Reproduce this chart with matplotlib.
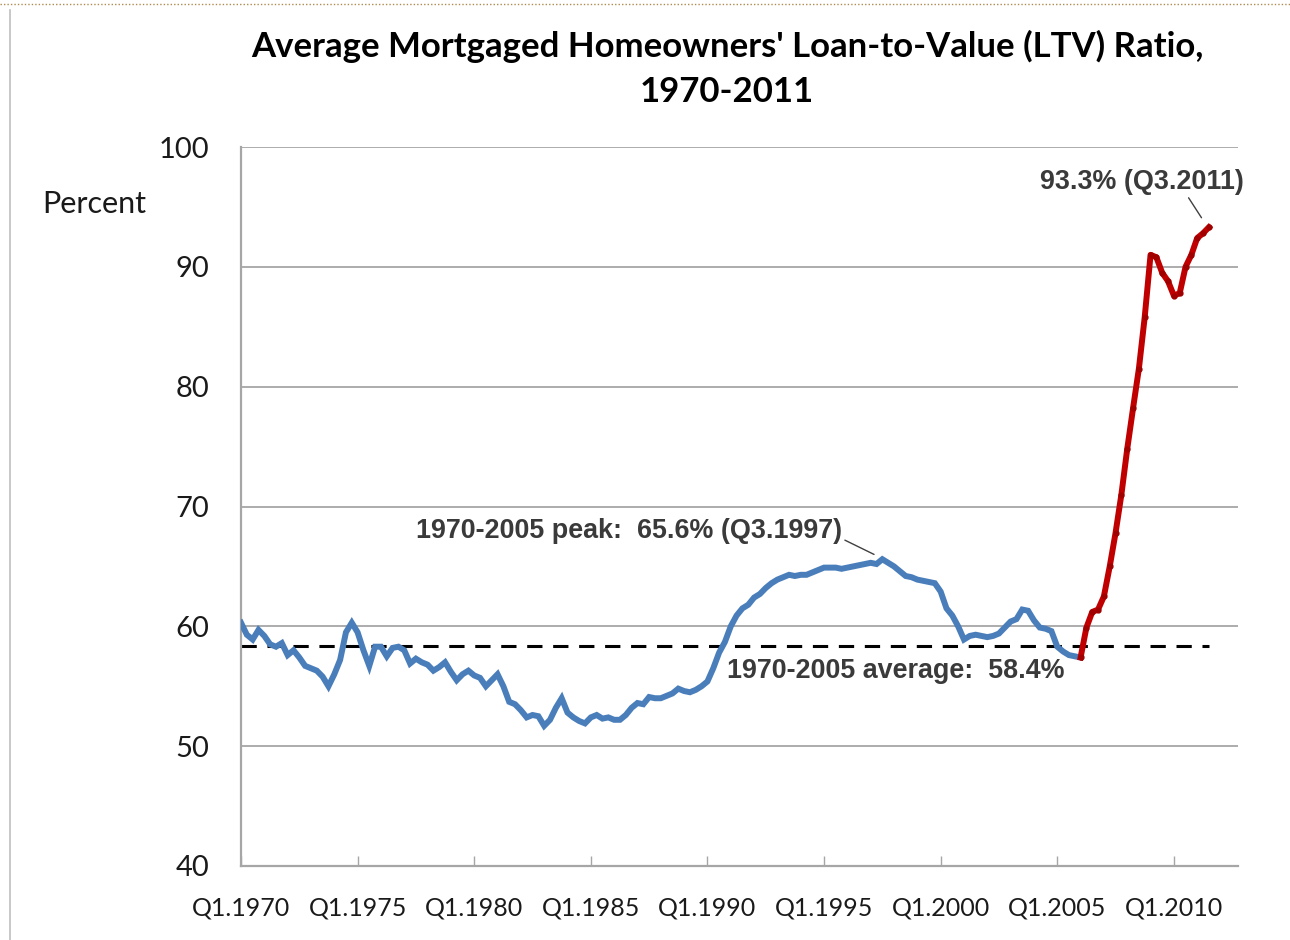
import numpy as np
import matplotlib
matplotlib.use("Agg")
import matplotlib.pyplot as plt
from matplotlib.lines import Line2D

# quarterly LTV ratio, Q1.1970 .. Q1.2006 (blue) and Q1.2006 .. Q3.2011 (red)
ltv_blue = [
    60.3, 59.3, 58.9, 59.7, 59.2, 58.5, 58.3, 58.6, 57.6, 58.0,
    57.4, 56.7, 56.5, 56.3, 55.8, 55.0, 56.0, 57.2, 59.5, 60.3,
    59.5, 58.0, 56.7, 58.3, 58.3, 57.5, 58.2, 58.3, 58.0, 56.9,
    57.3, 57.0, 56.8, 56.3, 56.6, 57.0, 56.2, 55.5, 56.0, 56.3,
    55.9, 55.7, 55.0, 55.5, 56.0, 55.0, 53.7, 53.5, 53.0, 52.4,
    52.6, 52.5, 51.7, 52.2, 53.2, 54.0, 52.8, 52.4, 52.1, 51.9,
    52.4, 52.6, 52.3, 52.4, 52.2, 52.2, 52.6, 53.2, 53.6, 53.5,
    54.1, 54.0, 54.0, 54.2, 54.4, 54.8, 54.6, 54.5, 54.7, 55.0,
    55.4, 56.5, 57.8, 58.7, 60.0, 60.9, 61.5, 61.8, 62.4, 62.7,
    63.2, 63.6, 63.9, 64.1, 64.3, 64.2, 64.3, 64.3, 64.5, 64.7,
    64.9, 64.9, 64.9, 64.8, 64.9, 65.0, 65.1, 65.2, 65.3, 65.2,
    65.6, 65.3, 65.0, 64.6, 64.2, 64.1, 63.9, 63.8, 63.7, 63.6,
    62.9, 61.5, 60.9, 60.0, 58.9, 59.2, 59.3, 59.2, 59.1, 59.2,
    59.4, 59.9, 60.4, 60.6, 61.4, 61.3, 60.5, 59.9, 59.8, 59.6,
    58.3, 57.9, 57.6, 57.5, 57.4,
]
ltv_red = [
    57.4, 59.9, 61.2, 61.4, 62.5, 65.0, 67.8, 71.0, 74.8, 78.2,
    81.5, 85.8, 91.0, 90.8, 89.5, 88.8, 87.6, 87.8, 90.0, 91.0,
    92.4, 92.8, 93.3,
]
avg_ltv = 58.4
peak_idx = 110   # Q3.1997
peak_val = 65.6
last_val = 93.3  # Q3.2011

tick_labels = ["Q1.1970", "Q1.1975", "Q1.1980", "Q1.1985", "Q1.1990",
               "Q1.1995", "Q1.2000", "Q1.2005", "Q1.2010"]

x_blue = np.arange(len(ltv_blue))
x_red = np.arange(len(ltv_red)) + len(ltv_blue) - 1

fig = plt.figure(figsize=(12.9, 9.4), dpi=100)
ax = fig.add_axes([241/1290, 1 - 866/940, (1238 - 241)/1290, (866 - 147)/940])

grid_col = "#a6a6a6"
for v in range(50, 101, 10):
    ax.axhline(v, color=grid_col, lw=1.3, zorder=1)

ax.plot([0, x_red[-1]], [avg_ltv, avg_ltv], color="black", lw=2.2,
        dashes=(5, 3.5), zorder=2)
ax.plot(x_blue, ltv_blue, color="#4a7ebb", lw=4.3, zorder=3,
        solid_joinstyle="miter")
ax.plot(x_red, ltv_red, color="#c00000", lw=4.3, zorder=4,
        marker="o", markersize=3.5, markerfacecolor="#a00000",
        markeredgecolor="#a00000")

ax.set_xlim(0, 171)
ax.set_ylim(40, 100)
ax.set_yticks(range(40, 101, 10))
ax.set_xticks(np.arange(0, 20*len(tick_labels), 20))
ax.set_xticklabels(tick_labels, fontsize=18, family="Lato")
ax.tick_params(axis="x", direction="in", length=7, width=1, color=grid_col,
               pad=22, labelcolor="#1a1a1a")
ax.tick_params(axis="y", length=0, pad=23, labelsize=21, labelcolor="#1a1a1a")
for lab in ax.get_yticklabels():
    lab.set_family("Lato")

for s in ["top", "right"]:
    ax.spines[s].set_visible(False)
for s in ["left", "bottom"]:
    ax.spines[s].set_color(grid_col)
    ax.spines[s].set_linewidth(1.6)

ann_col = "#3a3a3a"
ann_size = 19.4
ax.annotate("1970-2005 peak:  65.6% (Q3.1997)", xy=(peak_idx - 1, peak_val + 0.3),
            xytext=(416/1290, 1 - 531/940), textcoords="figure fraction",
            fontsize=ann_size, fontweight="bold", color=ann_col, family="Liberation Sans",
            va="center", ha="left",
            arrowprops=dict(arrowstyle="-", color="#404040", lw=1,
                            shrinkA=0, shrinkB=2, relpos=(1.0, 0.2)))
ax.text(727/1290, 1 - 671/940, "1970-2005 average:  58.4%", transform=fig.transFigure,
        fontsize=ann_size, fontweight="bold", color=ann_col, family="Liberation Sans",
        va="center", ha="left")
ax.annotate("93.3% (Q3.2011)", xy=(x_red[-1] - 1, last_val + 0.6),
            xytext=(1040/1290, 1 - 182/940), textcoords="figure fraction",
            fontsize=ann_size, fontweight="bold", color=ann_col, family="Liberation Sans",
            va="center", ha="left",
            arrowprops=dict(arrowstyle="-", color="#404040", lw=1,
                            shrinkA=0, shrinkB=2, relpos=(0.72, 0.0)))

fig.text(42/1290, 1 - 204/940, "Percent", fontsize=22, family="Lato",
         color="#1a1a1a", va="center", ha="left")
fig.text(727/1290, 1 - 46/940, "Average Mortgaged Homeowners' Loan-to-Value (LTV) Ratio,",
         fontsize=25, fontweight="bold", family="Lato", ha="center", va="center")
fig.text(727/1290, 1 - 92/940, "1970-2011",
         fontsize=25, fontweight="bold", family="Lato", ha="center", va="center")

# outer chart frame
fig.add_artist(Line2D([10/1290, 10/1290], [0, 1 - 10/940], color="#bfbfbf", lw=1.2,
                      transform=fig.transFigure))
fig.add_artist(Line2D([0, 1], [1 - 4/940, 1 - 4/940], color="#b08a50", lw=1,
                      ls=(0, (1, 1.5)), transform=fig.transFigure))

fig.savefig("out.png", dpi=100)
